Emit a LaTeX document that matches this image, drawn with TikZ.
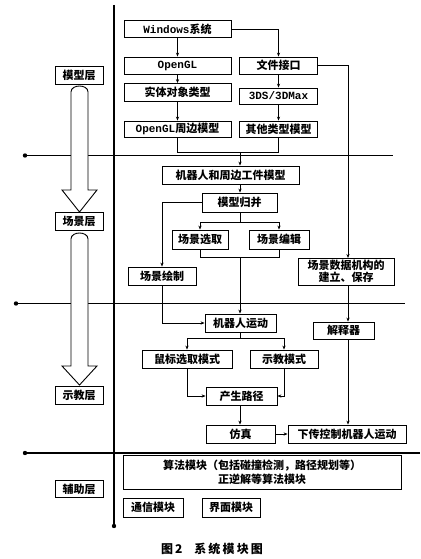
\documentclass[tikz,border=0pt]{standalone}
\usepackage{fontspec}
\setmainfont{Noto Sans CJK SC}
\newfontfamily\lat{Liberation Mono}[BoldFont={Liberation Mono Bold}]
\newfontfamily\capfont{Noto Sans CJK SC}[LetterSpace=18]
\usetikzlibrary{arrows.meta}
\begin{document}
\begin{tikzpicture}[x=1pt,y=-1pt,
  box/.style={draw, line width=0.8pt, inner sep=0pt, fill=white,
    font=\bfseries\fontsize{11}{13}\selectfont},
  conn/.style={line width=0.7pt},
  arr/.style={conn, -{Stealth[length=4pt,width=3.2pt]}},
  frame/.style={line width=1.6pt},
  hollow/.style={line width=0.9pt, fill=white}]
\useasboundingbox (0,0) rectangle (420,559);

% structural lines
\draw[frame] (114,5) -- (114,526);
\fill (114,526) circle (2.2pt);
\draw[frame] (25,155.5) -- (393,155.5);
\fill (25,155.5) circle (2.2pt);
\draw[frame] (16,303.5) -- (405,303.5);
\fill (16,303.5) circle (2.2pt);
\draw[frame] (25,453) -- (420,453);
\fill (25,453) circle (2.2pt);

% hollow arrows
\draw[hollow] (71,190) -- (71,92) .. controls (71,84) and (88,84) .. (88,92) -- (88,190) -- (97,190) -- (79.5,212) -- (62,190) -- cycle;
\draw[hollow] (71,366) -- (71,239) .. controls (71,231) and (88,231) .. (88,239) -- (88,366) -- (97,366) -- (79.5,385) -- (62,366) -- cycle;

% layer labels
\node[box, minimum width=48pt, minimum height=18pt] (lm) at (79,75) {模型层};
\node[box, minimum width=48pt, minimum height=18pt] (ls) at (79,221) {场景层};
\node[box, minimum width=48pt, minimum height=18pt] (lt) at (79,395.5) {示教层};
\node[box, minimum width=48pt, minimum height=17pt] (la) at (79,489) {辅助层};

% model layer
\node[box, minimum width=107pt, minimum height=17pt] (win) at (177.5,29) {{\lat\bfseries Windows}系统};
\node[box, minimum width=107pt, minimum height=17pt] (ogl) at (177.5,65.5) {\lat\bfseries OpenGL};
\node[box, minimum width=78pt, minimum height=17pt] (file) at (278.5,65.5) {文件接口};
\node[box, minimum width=107pt, minimum height=18pt] (solid) at (177.5,92.5) {实体对象类型};
\node[box, minimum width=78pt, minimum height=16pt] (max) at (278.5,96) {\lat\bfseries 3DS/3DMax};
\node[box, minimum width=107pt, minimum height=16pt] (oglm) at (177.5,129) {{\lat\bfseries OpenGL}周边模型};
\node[box, minimum width=78pt, minimum height=16pt] (other) at (278.5,129) {其他类型模型};

% scene layer
\node[box, minimum width=137pt, minimum height=18pt] (robmod) at (230.5,175) {机器人和周边工件模型};
\node[box, minimum width=75pt, minimum height=19pt] (merge) at (239.5,202.5) {模型归并};
\node[box, minimum width=56pt, minimum height=19pt] (sel) at (200,239.5) {场景选取};
\node[box, minimum width=60pt, minimum height=19pt] (edit) at (279,239.5) {场景编辑};
\node[box, minimum width=68pt, minimum height=18pt] (drw) at (162,276) {场景绘制};
\node[box, minimum width=96pt, minimum height=27pt, align=center,
  font=\bfseries\fontsize{11}{12.5}\selectfont] (data) at (346,271.5) {场景数据机构的\\建立、保存};

% teaching layer
\node[box, minimum width=71pt, minimum height=18pt] (robmove) at (240.5,323) {机器人运动};
\node[box, minimum width=61pt, minimum height=17pt] (interp) at (343.5,330.5) {解释器};
\node[box, minimum width=90pt, minimum height=18pt] (mouse) at (187,359) {鼠标选取模式};
\node[box, minimum width=68pt, minimum height=18pt] (teach) at (284,359) {示教模式};
\node[box, minimum width=71pt, minimum height=18pt] (path) at (241.5,396) {产生路径};
\node[box, minimum width=69pt, minimum height=18pt] (sim) at (240.5,434) {仿真};
\node[box, minimum width=118pt, minimum height=18pt] (down) at (347,434) {下传控制机器人运动};

% auxiliary layer
\node[box, minimum width=278pt, minimum height=34pt, align=center,
  font=\bfseries\fontsize{11}{14}\selectfont] (algo) at (262,472) {算法模块（包括碰撞检测，路径规划等）\\正逆解等算法模块};
\node[box, minimum width=60pt, minimum height=19pt] (comm) at (153,507.5) {通信模块};
\node[box, minimum width=58pt, minimum height=19pt] (ui) at (231,507.5) {界面模块};

% caption
\node[font=\capfont\bfseries\fontsize{12}{14}\selectfont] (cap) at (212,549) {图\,2\quad 系统模块图};

% connectors: model layer
\draw[arr] (win.south -| ogl) -- (ogl.north);
\draw[arr] (win.east) -- (win.east -| file) -- (file.north);
\draw[arr] (file.east) -- (348,65.5) -- (348,258);
\draw[arr] (ogl) -- (solid);
\draw[arr] (solid) -- (oglm);
\draw[arr] (file) -- (max);
\draw[arr] (max) -- (other);
\coordinate (j1) at (240,152);
\draw[conn] (oglm.south) -- (oglm.south |- j1) -- (other.south |- j1) -- (other.south);
\draw[arr] (j1) -- (j1 |- robmod.north);

% scene layer
\draw[arr] (robmod.south -| j1) -- (merge.north -| j1);
\coordinate (j2) at (240,222);
\draw[conn] (merge.south -| j2) -- (j2);
\draw[conn] (sel.north |- j2) -- (edit.north |- j2);
\draw[arr] (sel.north |- j2) -- (sel.north);
\draw[arr] (edit.north |- j2) -- (edit.north);
\draw[arr] (merge.west) -- (merge.west -| drw) -- (drw.north);
\coordinate (j3) at (240,257);
\draw[conn] (sel.south) -- (sel.south |- j3) -- (edit.south |- j3) -- (edit.south);
\draw[arr] (j3) -- (j3 |- robmove.north);
\draw[arr] (drw.south) -- (drw.south |- robmove.west) -- (robmove.west);
\draw[arr] (data.south -| 348,0) -- (interp.north -| 348,0);

% teaching layer
\coordinate (j4) at (240,338);
\draw[conn] (robmove.south -| j4) -- (j4);
\draw[conn] (mouse.north |- j4) -- (teach.north |- j4);
\draw[arr] (mouse.north |- j4) -- (mouse.north);
\draw[arr] (teach.north |- j4) -- (teach.north);
\draw[arr] (mouse.south) -- (mouse.south |- path.west) -- (path.west);
\draw[arr] (teach.south) -- (teach.south |- path.east) -- (path.east);
\draw[arr] (path.south -| j4) -- (sim.north -| j4);
\draw[arr] (sim.east) -- (down.west);
\draw[arr] (interp.south -| 348,0) -- (down.north -| 348,0);
\end{tikzpicture}
\end{document}
